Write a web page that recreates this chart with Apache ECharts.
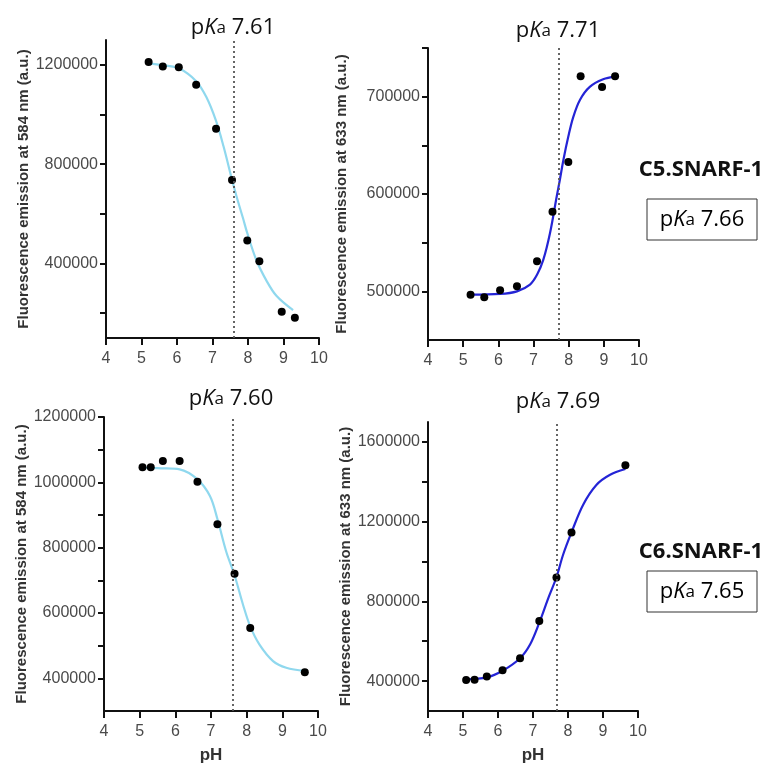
<!DOCTYPE html>
<html><head><meta charset="utf-8">
<script src="https://cdn.jsdelivr.net/npm/echarts@6/dist/echarts.min.js"></script>
<style>html,body{margin:0;padding:0;background:#fff}#c{width:764px;height:765px}</style>
</head><body><div id="c"></div>
<script>
// ---------- data ----------
const xTicks = [4, 5, 6, 7, 8, 9, 10];

// C5.SNARF-1, emission at 584 nm
const p1PH   = [5.20, 5.60, 6.05, 6.54, 7.10, 7.55, 7.98, 8.32, 8.95, 9.32];
const p1Val  = [1211000, 1193000, 1190000, 1120000, 943000, 736000, 493000, 409000, 206000, 182000];
const p1FitPH  = [5.20, 5.60, 6.05, 6.54, 6.83, 7.10, 7.31, 7.55, 7.68, 7.86, 7.98, 8.24, 8.52, 8.80, 9.27];
const p1FitVal = [1206000, 1198000, 1186000, 1134000, 1069000, 974000, 872000, 737000, 669000, 582000, 522000, 412000, 331000, 270000, 212000];
const p1PKa = 7.61;

// C5.SNARF-1, emission at 633 nm
const p2PH   = [5.21, 5.60, 6.05, 6.53, 7.10, 7.54, 7.99, 8.34, 8.95, 9.32];
const p2Val  = [496600, 493800, 501000, 505100, 530800, 581700, 633000, 721000, 710000, 721000];
const p2FitPH  = [5.21, 6.05, 6.53, 6.90, 7.10, 7.28, 7.47, 7.66, 7.75, 7.85, 7.99, 8.13, 8.32, 8.60, 8.98, 9.32];
const p2FitVal = [496600, 497300, 500000, 506900, 517000, 532500, 559900, 597400, 614600, 635000, 659000, 679000, 696600, 710000, 717800, 720500];
const p2PKa = 7.71;

// C6.SNARF-1, emission at 584 nm
const p3PH   = [5.08, 5.31, 5.65, 6.12, 6.62, 7.18, 7.66, 8.10, 9.63];
const p3Val  = [1046000, 1046000, 1065000, 1065000, 1002000, 872000, 720000, 554000, 419000];
const p3FitPH  = [5.08, 5.60, 6.12, 6.62, 6.97, 7.18, 7.43, 7.66, 7.90, 8.10, 8.36, 8.74, 9.11, 9.63];
const p3FitVal = [1045000, 1043000, 1039500, 1009000, 958000, 887700, 786600, 715600, 624600, 559000, 503200, 452800, 432500, 422500];
const p3PKa = 7.60;

// C6.SNARF-1, emission at 633 nm
const p4PH   = [5.09, 5.33, 5.68, 6.13, 6.63, 7.18, 7.67, 8.10, 9.64];
const p4Val  = [405000, 407000, 423000, 455000, 515000, 701000, 920000, 1145000, 1483000];
const p4FitPH  = [5.09, 5.68, 6.13, 6.63, 6.92, 7.18, 7.44, 7.67, 7.86, 8.10, 8.43, 8.81, 9.19, 9.64];
const p4FitVal = [408500, 418500, 452000, 515000, 585000, 693000, 818000, 921000, 1034000, 1146000, 1284000, 1384000, 1434000, 1464000];
const p4PKa = 7.69;

// y-axis ticks / labels
const p1YTicks = [200000, 400000, 600000, 800000, 1000000, 1200000];
const p1YLabels = [400000, 800000, 1200000];
const p2YTicks = [500000, 550000, 600000, 650000, 700000, 750000];
const p2YLabels = [500000, 600000, 700000];
const p3YTicks = [400000, 500000, 600000, 700000, 800000, 900000, 1000000, 1100000, 1200000];
const p3YLabels = [400000, 600000, 800000, 1000000, 1200000];
const p4YTicks = [400000, 600000, 800000, 1000000, 1200000, 1400000, 1600000];
const p4YLabels = [400000, 800000, 1200000, 1600000];

const yNames = ['Fluorescence emission at 584 nm (a.u.)', 'Fluorescence emission at 633 nm (a.u.)',
                'Fluorescence emission at 584 nm (a.u.)', 'Fluorescence emission at 633 nm (a.u.)'];
const titles = ['7.61', '7.71', '7.60', '7.69'];
const compounds = ['C5.SNARF-1', 'C6.SNARF-1'];
const combinedPKa = ['7.66', '7.65'];
const xName = 'pH';

// ---------- layout ----------
const LIGHT = '#8fd8ee', DARK = '#2424d6';
const panels = [
  {ph: p1PH, val: p1Val, fph: p1FitPH, fval: p1FitVal, pka: p1PKa, ticks: p1YTicks, labels: p1YLabels,
   min: 100000, max: 1300000, color: LIGHT, grid: {left: 106, top: 40, width: 213, height: 298}, gap: 75, xname: false},
  {ph: p2PH, val: p2Val, fph: p2FitPH, fval: p2FitVal, pka: p2PKa, ticks: p2YTicks, labels: p2YLabels,
   min: 450000, max: 750000, color: DARK, grid: {left: 428, top: 48, width: 211, height: 292}, gap: 79, xname: false},
  {ph: p3PH, val: p3Val, fph: p3FitPH, fval: p3FitVal, pka: p3PKa, ticks: p3YTicks, labels: p3YLabels,
   min: 300000, max: 1200000, color: LIGHT, grid: {left: 104, top: 417, width: 214, height: 296}, gap: 74, xname: true},
  {ph: p4PH, val: p4Val, fph: p4FitPH, fval: p4FitVal, pka: p4PKa, ticks: p4YTicks, labels: p4YLabels,
   min: 250000, max: 1700000, color: DARK, grid: {left: 428, top: 422, width: 210, height: 291}, gap: 73, xname: true}
];
const titlePos = [[228, 12], [553, 15], [226, 383], [553, 386]];

const axisFont = 'Liberation Sans, Arial, sans-serif';
const grids = [], xAxes = [], yAxes = [], series = [], titleArr = [];
const plain = v => String(v);
panels.forEach((p, i) => {
  grids.push(Object.assign({containLabel: false}, p.grid));
  xAxes.push({
    type: 'value', gridIndex: i, min: xTicks[0], max: xTicks[xTicks.length - 1], interval: 1,
    splitLine: {show: false},
    axisLine: {show: true, onZero: false, lineStyle: {color: '#111', width: 2}},
    axisTick: {show: true, length: 7, lineStyle: {color: '#111', width: 2}},
    axisLabel: {margin: 13, fontSize: 16, color: '#4a4a4a', fontFamily: axisFont, formatter: plain},
    name: p.xname ? xName : '', nameLocation: 'middle', nameGap: 36,
    nameTextStyle: {fontSize: 17, fontWeight: 'bold', color: '#333', fontFamily: axisFont}
  });
  yAxes.push({
    type: 'value', gridIndex: i, min: p.min, max: p.max,
    splitLine: {show: false},
    axisLine: {show: true, onZero: false, lineStyle: {color: '#111', width: 2}},
    axisTick: {show: true, length: 6, customValues: p.ticks, lineStyle: {color: '#111', width: 2}},
    axisLabel: {margin: 8, fontSize: 16, color: '#4a4a4a', fontFamily: axisFont, customValues: p.labels, formatter: plain},
    name: yNames[i], nameLocation: 'middle', nameGap: p.gap, nameRotate: 90,
    nameTextStyle: {fontSize: 15, fontWeight: 'bold', color: '#333', fontFamily: axisFont}
  });
  series.push({
    type: 'line', xAxisIndex: i, yAxisIndex: i, smooth: 0.35, showSymbol: false, symbol: 'none',
    data: p.fph.map((x, k) => [x, p.fval[k]]),
    lineStyle: {color: p.color, width: 2.2}, z: 2,
    markLine: {
      silent: true, symbol: ['none', 'none'], label: {show: false},
      lineStyle: {color: '#555', type: [2, 3], width: 1.8},
      data: [{xAxis: p.pka}]
    }
  });
  series.push({
    type: 'scatter', xAxisIndex: i, yAxisIndex: i, symbol: 'circle', symbolSize: 8,
    itemStyle: {color: '#000', opacity: 1}, z: 3,
    data: p.ph.map((x, k) => [x, p.val[k]])
  });
  titleArr.push({
    left: titlePos[i][0], top: titlePos[i][1], textAlign: 'center',
    text: '{n|p}{i|K}{s|a}{n| ' + titles[i] + '}',
    textStyle: {fontWeight: 'normal', rich: {
      n: {fontSize: 22, fontFamily: 'Open Sans', fontWeight: 'normal', color: '#111'},
      i: {fontSize: 22, fontFamily: 'Open Sans', fontWeight: 'normal', fontStyle: 'italic', color: '#111'},
      s: {fontSize: 17, fontFamily: 'Open Sans', fontWeight: 'normal', color: '#111'}
    }}
  });
});

const boxRich = {
  n: {fontSize: 22, fontFamily: 'Open Sans', color: '#111'},
  i: {fontSize: 22, fontFamily: 'Open Sans', fontStyle: 'italic', color: '#111'},
  s: {fontSize: 17, fontFamily: 'Open Sans', color: '#111'}
};
const sideY = [[170, 199], [552, 571]];
const graphic = [];
compounds.forEach((c, j) => {
  graphic.push({type: 'text', x: 701, y: sideY[j][0],
    style: {text: c, font: 'bold 22px "Open Sans"', fill: '#111', align: 'center', verticalAlign: 'middle'}});
  graphic.push({type: 'rect', shape: {x: 647, y: sideY[j][1], width: 110, height: 41},
    style: {fill: '#fff', stroke: '#333', lineWidth: 1}});
  graphic.push({type: 'text', x: 702, y: sideY[j][1] + 21,
    style: {text: '{n|p}{i|K}{s|a}{n| ' + combinedPKa[j] + '}', rich: boxRich, align: 'center', verticalAlign: 'middle'}});
});

const chart = echarts.init(document.getElementById('c'), null, {renderer: 'canvas'});
chart.setOption({
  animation: false, backgroundColor: '#fff',
  title: titleArr, grid: grids, xAxis: xAxes, yAxis: yAxes, series: series, graphic: graphic
});
</script></body></html>
